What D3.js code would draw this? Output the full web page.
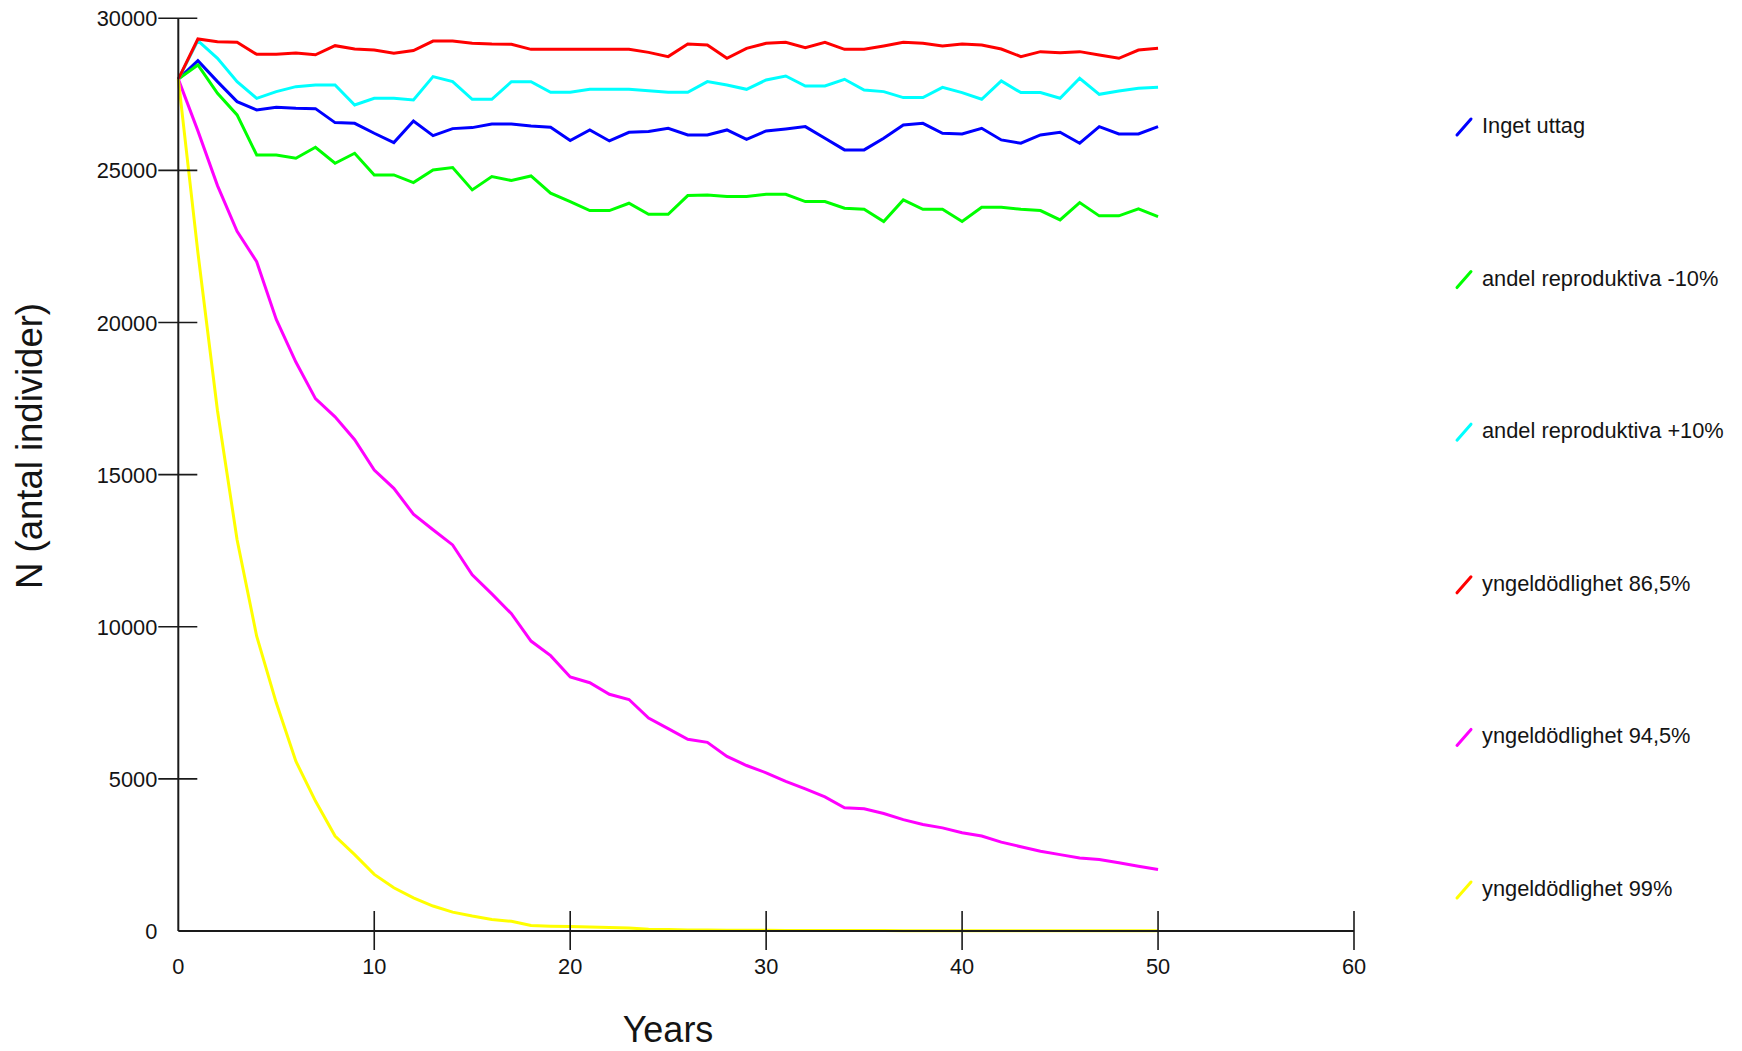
<!DOCTYPE html>
<html>
<head>
<meta charset="utf-8">
<script src="https://cdn.jsdelivr.net/npm/d3@7/dist/d3.min.js"></script>
<style>
  html, body { margin: 0; padding: 0; background: #fff; }
  svg { display: block; }
  text { font-family: "Liberation Sans", Arial, sans-serif; fill: #141414; }
</style>
</head>
<body>
<svg id="chart" width="1742" height="1051"></svg>
<script>
// ---- data ----
const years = d3.range(0, 51);
const xTicks = [0, 10, 20, 30, 40, 50, 60];
const yTicks = [0, 5000, 10000, 15000, 20000, 25000, 30000];

const seriesNames = [
  "Inget uttag",
  "andel reproduktiva -10%",
  "andel reproduktiva +10%",
  "yngeldödlighet 86,5%",
  "yngeldödlighet 94,5%",
  "yngeldödlighet 99%"
];
const seriesColors = ["#0000ff", "#00ff00", "#00ffff", "#ff0000", "#ff00ff", "#ffff00"];

const ingetUttag = [28000, 28608, 27918, 27261, 26987, 27075, 27042, 27031, 26571, 26549,
  26221, 25914, 26626, 26144, 26374, 26407, 26527, 26527, 26462, 26418,
  25980, 26330, 25969, 26254, 26276, 26385, 26166, 26166, 26330, 26024,
  26298, 26363, 26440, 26057, 25674, 25674, 26057, 26495, 26549, 26221,
  26199, 26385, 26002, 25893, 26166, 26254, 25893, 26440, 26199, 26199, 26440];

const andelMinus10 = [28000, 28466, 27535, 26824, 25509, 25509, 25400, 25761, 25236, 25564,
  24852, 24852, 24600, 25016, 25093, 24360, 24797, 24666, 24819, 24250,
  23976, 23681, 23681, 23921, 23560, 23560, 24173, 24195, 24140, 24140,
  24217, 24217, 23976, 23976, 23757, 23724, 23320, 24031, 23724, 23724,
  23320, 23790, 23790, 23724, 23681, 23374, 23943, 23506, 23506, 23735, 23484];

const andelPlus10 = [28000, 29265, 28685, 27918, 27370, 27590, 27754, 27809, 27809, 27152,
  27370, 27370, 27316, 28083, 27918, 27338, 27338, 27918, 27918, 27568,
  27568, 27666, 27666, 27666, 27622, 27568, 27568, 27918, 27808, 27666,
  27973, 28105, 27775, 27775, 27995, 27644, 27590, 27393, 27393, 27732,
  27557, 27338, 27940, 27557, 27557, 27371, 28028, 27502, 27612, 27700, 27732];

const yngel865 = [28000, 29320, 29230, 29210, 28816, 28816, 28860, 28800, 29100, 28990,
  28960, 28850, 28940, 29250, 29250, 29180, 29155, 29145, 28980, 28980,
  28980, 28980, 28980, 28980, 28880, 28740, 29155, 29123, 28685, 29013,
  29178, 29210, 29035, 29210, 28980, 28980, 29090, 29210, 29178, 29090,
  29156, 29123, 28991, 28740, 28904, 28871, 28904, 28794, 28685, 28958, 29013];

const yngel945 = [28000, 26300, 24500, 23000, 22000, 20100, 18700, 17500, 16900, 16150,
  15150, 14550, 13700, 13190, 12690, 11710, 11080, 10430, 9530, 9050,
  8350, 8160, 7780, 7610, 7000, 6650, 6300, 6200, 5740, 5440,
  5200, 4920, 4670, 4410, 4050, 4020, 3860, 3660, 3500, 3390,
  3230, 3120, 2920, 2770, 2620, 2510, 2400, 2350, 2240, 2130, 2020];

const yngel99 = [28000, 22300, 17100, 12860, 9690, 7500, 5580, 4270, 3120, 2510,
  1860, 1420, 1090, 820, 620, 490, 380, 320, 180, 160,
  150, 130, 115, 100, 60, 50, 35, 30, 28, 25,
  22, 20, 18, 16, 15, 14, 13, 12, 11, 10,
  9, 9, 8, 8, 7, 7, 6, 6, 5, 5, 5];

const seriesValues = [ingetUttag, andelMinus10, andelPlus10, yngel865, yngel945, yngel99];

// ---- layout ----
const svg = d3.select("#chart");
const x = d3.scaleLinear().domain([0, 60]).range([178.3, 1354]);
const y = d3.scaleLinear().domain([0, 30000]).range([931, 18.3]);
const x0 = x(0), y0 = y(0);
const axisColor = "#1a1a1a";
const fontSize = 21.8;

// lines
const line = d3.line().x((d, i) => x(years[i])).y(d => y(d));
seriesValues.forEach((vals, k) => {
  svg.append("path")
    .datum(vals)
    .attr("d", line)
    .attr("fill", "none")
    .attr("stroke", seriesColors[k])
    .attr("stroke-width", 3)
    .attr("stroke-linejoin", "miter");
});

// axes lines
svg.append("line").attr("x1", x0).attr("x2", x0).attr("y1", y(30000)).attr("y2", y0)
  .attr("stroke", axisColor).attr("stroke-width", 2);
svg.append("line").attr("x1", x0).attr("x2", x(60)).attr("y1", y0).attr("y2", y0)
  .attr("stroke", axisColor).attr("stroke-width", 2);

// x ticks (crossing the axis)
xTicks.filter(t => t !== 0).forEach(t => {
  svg.append("line").attr("x1", x(t)).attr("x2", x(t)).attr("y1", y0 - 20).attr("y2", y0 + 19)
    .attr("stroke", axisColor).attr("stroke-width", 1.6);
});
xTicks.forEach(t => {
  svg.append("text").attr("x", x(t)).attr("y", 974)
    .attr("text-anchor", "middle").attr("font-size", fontSize).text(t);
});

// y ticks (crossing the axis)
yTicks.filter(t => t !== 0).forEach(t => {
  svg.append("line").attr("x1", x0 - 20).attr("x2", x0 + 19).attr("y1", y(t)).attr("y2", y(t))
    .attr("stroke", axisColor).attr("stroke-width", 1.6);
});
yTicks.forEach(t => {
  svg.append("text").attr("x", x0 - 21).attr("y", y(t) + 8)
    .attr("text-anchor", "end").attr("font-size", fontSize).text(t);
});

// axis titles
svg.append("text").attr("x", 668).attr("y", 1042)
  .attr("text-anchor", "middle").attr("font-size", 36).text("Years");
svg.append("text").attr("transform", "translate(42,446) rotate(-90)")
  .attr("text-anchor", "middle").attr("font-size", 36.5).text("N (antal individer)");

// legend
seriesNames.forEach((name, k) => {
  const by = 133 + k * 152.6;
  svg.append("line").attr("x1", 1457).attr("y1", by + 2).attr("x2", 1471).attr("y2", by - 14)
    .attr("stroke", seriesColors[k]).attr("stroke-width", 3).attr("stroke-linecap", "round");
  svg.append("text").attr("x", 1482).attr("y", by)
    .attr("font-size", fontSize).text(name);
});
</script>
</body>
</html>
